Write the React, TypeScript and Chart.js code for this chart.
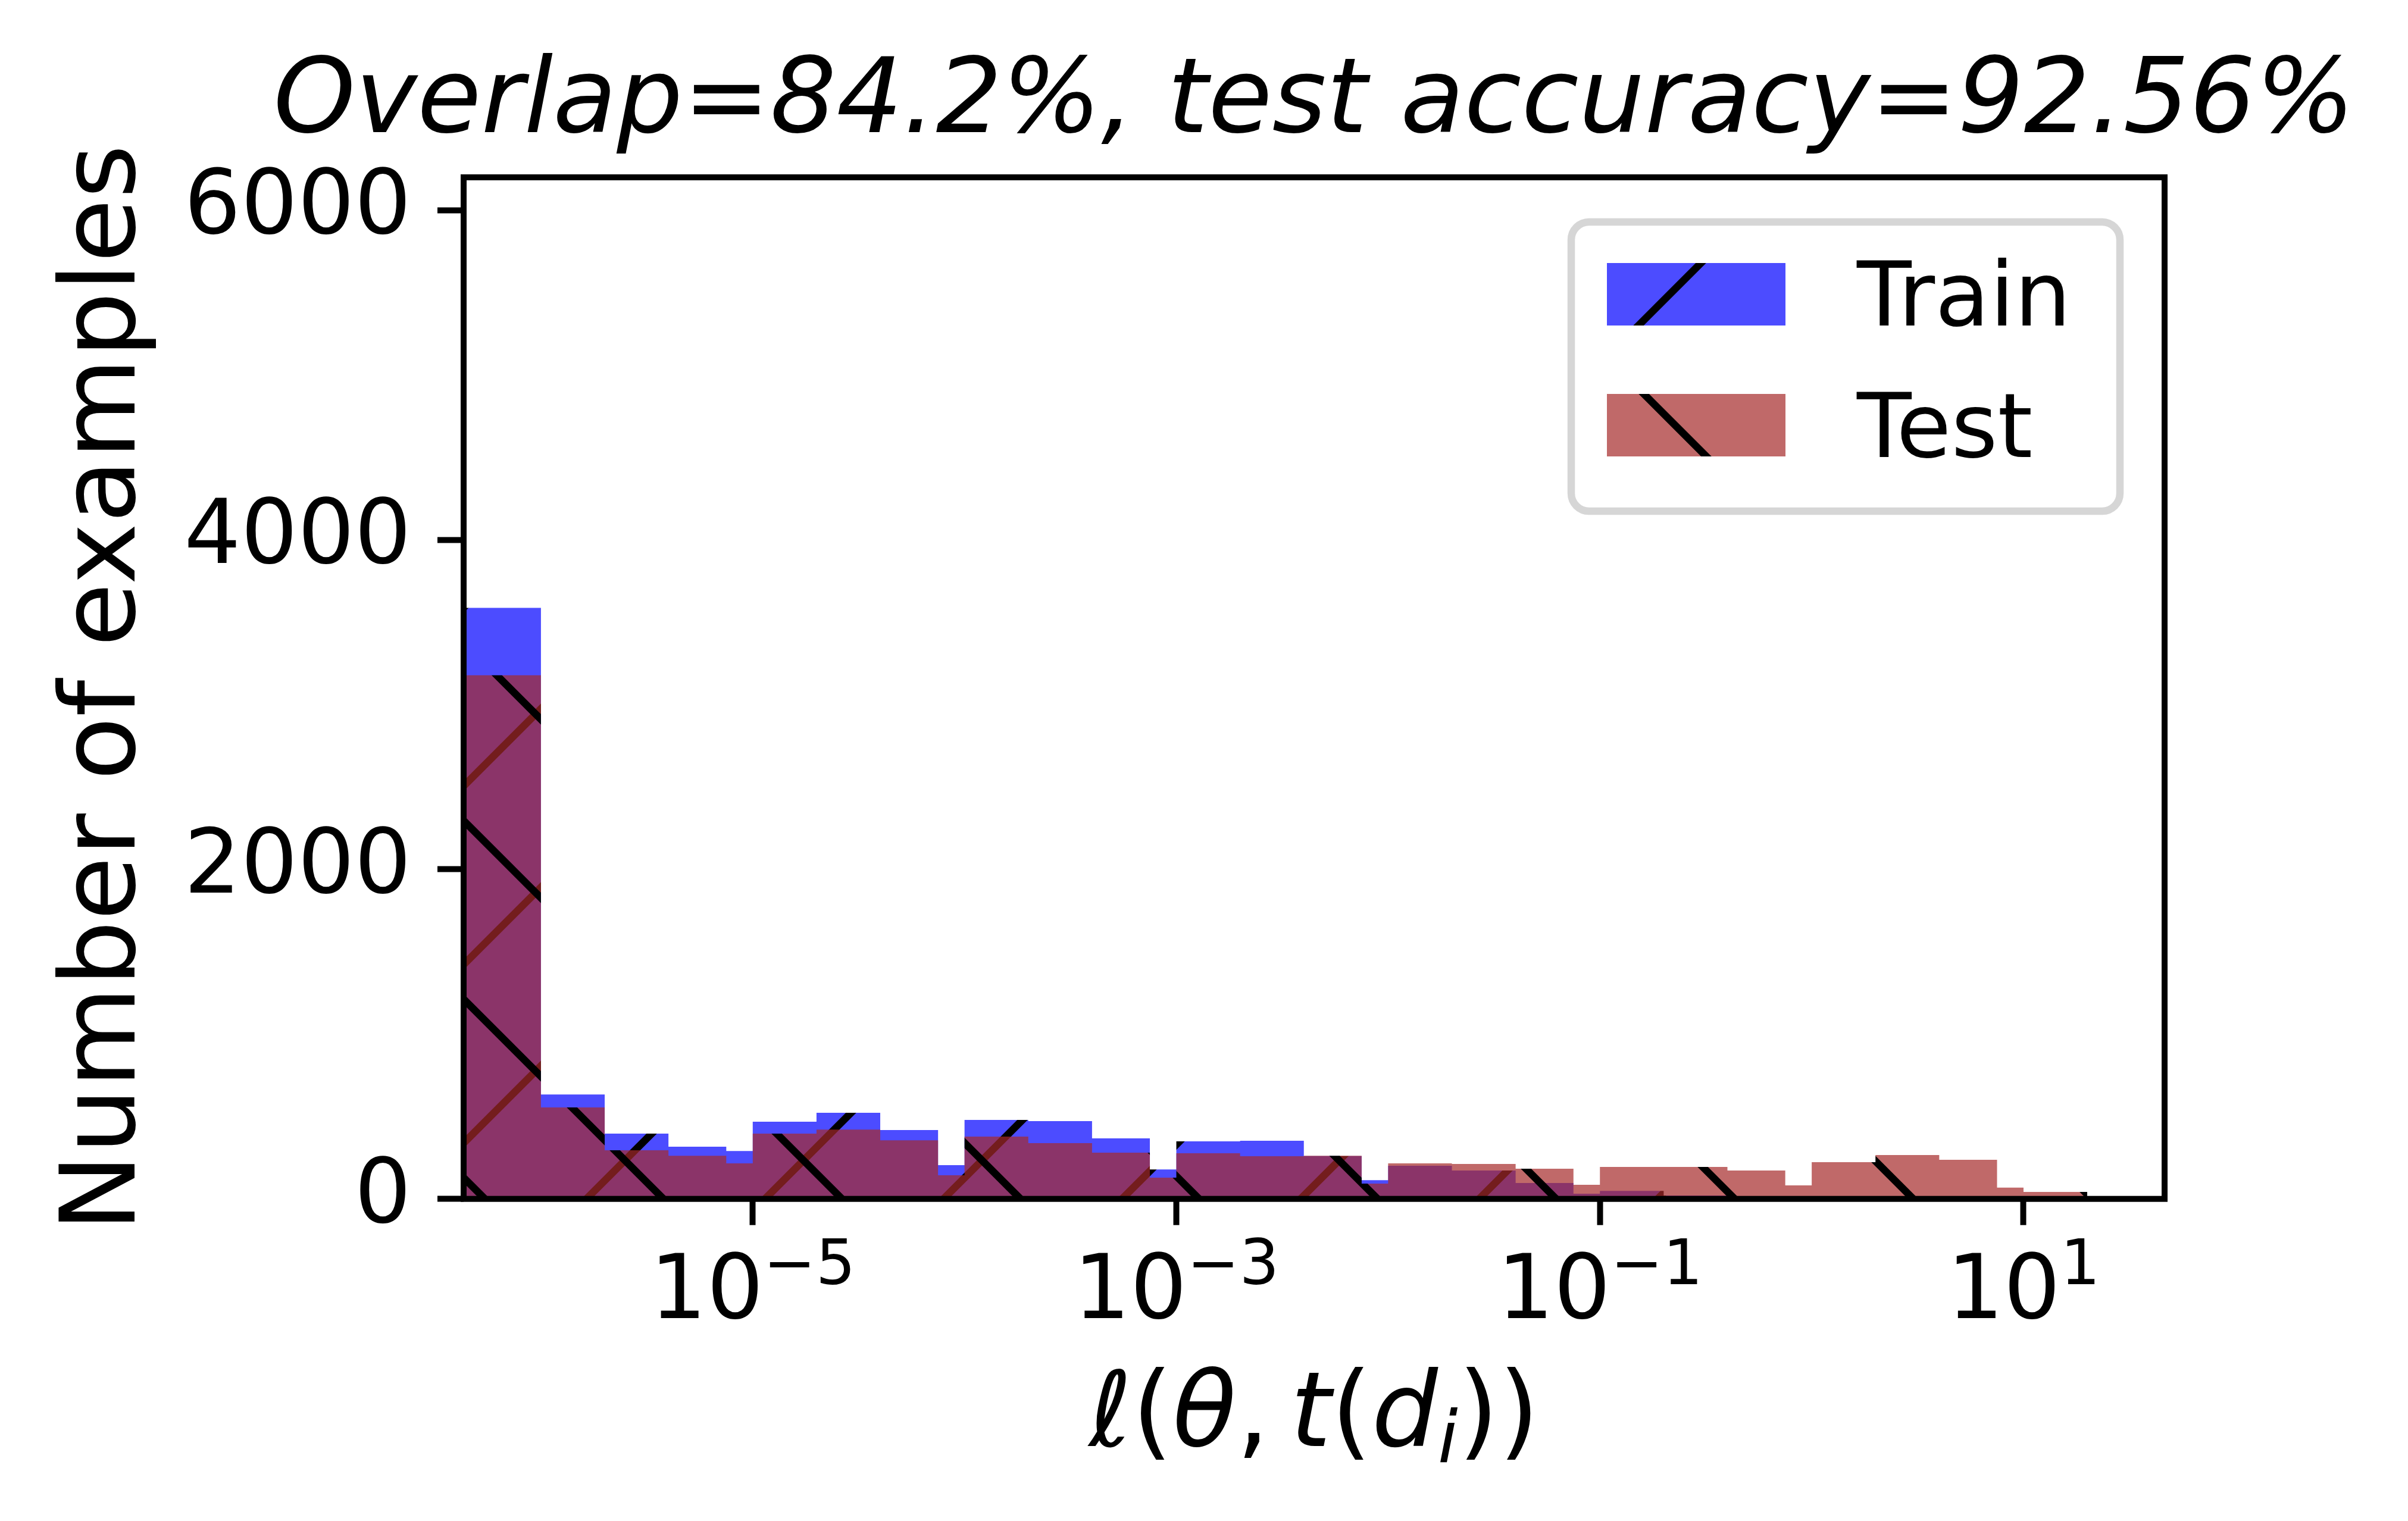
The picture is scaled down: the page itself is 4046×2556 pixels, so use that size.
import React, { useEffect, useRef } from 'react';
import { Chart, registerables } from 'chart.js';

Chart.register(...registerables);

// bin edges of the loss histogram (first bin starts at 0, clipped by the log axis)
const BIN_EDGES = [
  0, 1e-6, 2e-6, 4e-6, 7.5e-6, 1e-5, 2e-5, 4e-5, 7.5e-5, 1e-4, 2e-4, 4e-4, 7.5e-4,
  1e-3, 2e-3, 4e-3, 7.5e-3, 1e-2, 2e-2, 4e-2, 7.5e-2, 1e-1, 2e-1, 4e-1, 7.5e-1,
  1, 2, 4, 7.5, 10, 20,
];
const TRAIN_COUNTS = [
  3587, 634, 396, 317, 291, 468, 523, 418, 205, 479, 472, 367, 179, 349, 353,
  260, 114, 201, 172, 96, 31, 49, 21, 0, 0, 0, 0, 0, 0, 0,
];
const TEST_COUNTS = [
  3178, 555, 295, 262, 216, 396, 421, 356, 143, 378, 338, 281, 129, 277, 259,
  262, 93, 216, 212, 183, 86, 194, 194, 172, 82, 223, 266, 237, 68, 42,
];
const SERIES_LABELS = ['Train', 'Test'];
const X_TICKS = [1e-5, 1e-3, 1e-1, 1e1];
const Y_TICKS = [0, 2000, 4000, 6000];
const Y_MAX = 6200;
const TITLE = 'Overlap=84.2%, test accuracy=92.56%';
const Y_LABEL = 'Number of examples';

const W = 4046;
const H = 2556;
const FONT = '"DejaVu Sans"';

// matplotlib-like hatch: tile of fill colour with one diagonal
function makeHatch(ctx: CanvasRenderingContext2D, fill: string, dir: string) {
  const s = 300;
  const c = document.createElement('canvas');
  c.width = s;
  c.height = s;
  const g = c.getContext('2d')!;
  g.fillStyle = fill;
  g.fillRect(0, 0, s, s);
  g.strokeStyle = '#000';
  g.lineWidth = 12.5;
  g.beginPath();
  if (dir === '/') {
    for (const k of [0, s, 2 * s]) {
      g.moveTo(k + 20, -20);
      g.lineTo(k - s - 20, s + 20);
    }
  } else {
    for (const k of [-s, 0, s]) {
      g.moveTo(k - 20, -20);
      g.lineTo(k + s + 20, s + 20);
    }
  }
  g.stroke();
  return ctx.createPattern(c, 'repeat');
}

function stepPoints(counts: number[], xMin: number) {
  return BIN_EDGES.map((e, i) => ({
    x: i === 0 ? xMin : e,
    y: i < counts.length ? counts[i] : 0,
  }));
}

const framePlugin = {
  id: 'frame',
  afterDatasetsDraw(chart: any) {
    const { ctx, chartArea: a } = chart;
    ctx.save();
    ctx.strokeStyle = '#000';
    ctx.lineWidth = 10;
    ctx.strokeRect(a.left, a.top, a.right - a.left, a.bottom - a.top);
    ctx.restore();
  },
};

const decorPlugin = {
  id: 'decor',
  afterDraw(chart: any) {
    const { ctx, chartArea: a } = chart;
    const cx = (a.left + a.right) / 2;
    ctx.save();
    ctx.fillStyle = '#000';
    ctx.textBaseline = 'alphabetic';

    // title
    ctx.font = `italic 175px ${FONT}`;
    ctx.textAlign = 'center';
    ctx.fillText(TITLE, cx, a.top - 76);

    // y label
    ctx.save();
    ctx.translate(226, (a.top + a.bottom) / 2);
    ctx.rotate(-Math.PI / 2);
    ctx.font = `175px ${FONT}`;
    ctx.fillText(Y_LABEL, 0, 0);
    ctx.restore();

    // x tick labels 10^k
    ctx.textAlign = 'left';
    const xs = chart.scales.x;
    const base = a.bottom + 200;
    for (const t of xs.ticks) {
      const px = xs.getPixelForValue(t.value);
      const p = Math.round(Math.log10(t.value));
      const sup = (p < 0 ? '\u2212' : '') + Math.abs(p);
      ctx.font = `150px ${FONT}`;
      const w10 = ctx.measureText('10').width;
      ctx.font = `105px ${FONT}`;
      const ws = ctx.measureText(sup).width;
      const x0 = px - (w10 + ws) / 2;
      ctx.font = `150px ${FONT}`;
      ctx.fillText('10', x0, base);
      ctx.font = `105px ${FONT}`;
      ctx.fillText(sup, x0 + w10, base - 57);
    }

    // x label  l(theta, t(d_i))
    const parts = [
      { t: '\u2113', f: `italic 175px ${FONT}`, dy: 0 },
      { t: '(', f: `175px ${FONT}`, dy: 0 },
      { t: '\u03b8', f: `italic 175px ${FONT}`, dy: 0 },
      { t: ',\u2009', f: `175px ${FONT}`, dy: 0 },
      { t: 't', f: `italic 175px ${FONT}`, dy: 0 },
      { t: '(', f: `175px ${FONT}`, dy: 0 },
      { t: 'd', f: `italic 175px ${FONT}`, dy: 0 },
      { t: 'i', f: `italic 122px ${FONT}`, dy: 27 },
      { t: '))', f: `175px ${FONT}`, dy: 0 },
    ];
    let total = 0;
    const widths = parts.map((p) => {
      ctx.font = p.f;
      const w = ctx.measureText(p.t).width;
      total += w;
      return w;
    });
    let x = cx - total / 2;
    const lb = a.bottom + 415;
    parts.forEach((p, i) => {
      ctx.font = p.f;
      ctx.fillText(p.t, x, lb + p.dy);
      x += widths[i];
    });

    // legend (matplotlib metrics at 150px font)
    const bw = 922;
    const bh = 486;
    const bx = a.right - 75 - bw;
    const by = a.top + 75;
    const r = 30;
    ctx.beginPath();
    ctx.moveTo(bx + r, by);
    ctx.lineTo(bx + bw - r, by);
    ctx.arcTo(bx + bw, by, bx + bw, by + r, r);
    ctx.lineTo(bx + bw, by + bh - r);
    ctx.arcTo(bx + bw, by + bh, bx + bw - r, by + bh, r);
    ctx.lineTo(bx + r, by + bh);
    ctx.arcTo(bx, by + bh, bx, by + bh - r, r);
    ctx.lineTo(bx, by + r);
    ctx.arcTo(bx, by, bx + r, by, r);
    ctx.closePath();
    ctx.fillStyle = '#fff';
    ctx.fill();
    ctx.strokeStyle = '#d6d6d6';
    ctx.lineWidth = 12.5;
    ctx.stroke();

    ctx.font = `150px ${FONT}`;
    chart.data.datasets.forEach((ds: any, i: number) => {
      ctx.fillStyle = ds.backgroundColor;
      ctx.fillRect(bx + 60, by + 69 + i * 220, 300, 105);
      ctx.fillStyle = '#000';
      ctx.fillText(ds.label, bx + 480, by + 174 + i * 221);
    });
    ctx.restore();
  },
};

const App = () => {
  const canvasRef = useRef<HTMLCanvasElement>(null);

  useEffect(() => {
    document.body.style.margin = '0';
    const canvas = canvasRef.current;
    if (!canvas) return;
    const ctx = canvas.getContext('2d');
    if (!ctx) return;

    // log axis limits with 5% margins around the positive bin edges
    const lo = Math.log10(BIN_EDGES[1]);
    const hi = Math.log10(BIN_EDGES[BIN_EDGES.length - 1]);
    const m = 0.05 * (hi - lo);
    const xMin = Math.pow(10, lo - m);
    const xMax = Math.pow(10, hi + m);

    const chart = new Chart(ctx, {
      type: 'line',
      data: {
        datasets: [
          {
            label: SERIES_LABELS[0],
            data: stepPoints(TRAIN_COUNTS, xMin),
            stepped: true,
            fill: 'origin',
            backgroundColor: makeHatch(ctx, 'rgba(0,0,255,0.7)', '/'),
            borderColor: 'rgba(0,0,0,0)',
            borderWidth: 0,
            pointRadius: 0,
            pointHoverRadius: 0,
            order: 2,
          },
          {
            label: SERIES_LABELS[1],
            data: stepPoints(TEST_COUNTS, xMin),
            stepped: true,
            fill: 'origin',
            backgroundColor: makeHatch(ctx, 'rgba(165,42,42,0.7)', '\\'),
            borderColor: 'rgba(0,0,0,0)',
            borderWidth: 0,
            pointRadius: 0,
            pointHoverRadius: 0,
            order: 1,
          },
        ],
      } as any,
      options: {
        responsive: false,
        animation: false,
        devicePixelRatio: 1,
        events: [],
        layout: { padding: { left: 0, right: W - 3637, top: 298, bottom: 0 } },
        plugins: {
          legend: { display: false },
          title: { display: false },
          tooltip: { enabled: false },
        },
        scales: {
          x: {
            type: 'logarithmic',
            min: xMin,
            max: xMax,
            afterBuildTicks: (s: any) => {
              s.ticks = X_TICKS.map((v) => ({ value: v }));
            },
            afterFit: (s: any) => {
              s.height = H - 2014.7;
            },
            ticks: { display: false },
            grid: {
              display: true,
              drawOnChartArea: false,
              drawTicks: true,
              tickLength: 44,
              tickWidth: 10,
              tickColor: '#000',
            },
            border: { display: false },
          },
          y: {
            type: 'linear',
            min: 0,
            max: Y_MAX,
            afterBuildTicks: (s: any) => {
              s.ticks = Y_TICKS.map((v) => ({ value: v }));
            },
            afterFit: (s: any) => {
              s.width = 779;
            },
            ticks: {
              color: '#000',
              padding: 44,
              font: { family: 'DejaVu Sans', size: 150 },
              callback: (v: any) => String(v),
            },
            grid: {
              display: true,
              drawOnChartArea: false,
              drawTicks: true,
              tickLength: 44,
              tickWidth: 10,
              tickColor: '#000',
            },
            border: { display: false },
          },
        },
      } as any,
      plugins: [framePlugin, decorPlugin],
    });

    return () => {
      chart.destroy();
    };
  }, []);

  return (
    <div style={{ width: W, height: H, background: '#fff' }}>
      <canvas
        ref={canvasRef}
        width={W}
        height={H}
        style={{ display: 'block', width: W, height: H }}
      />
    </div>
  );
};

export default App;
